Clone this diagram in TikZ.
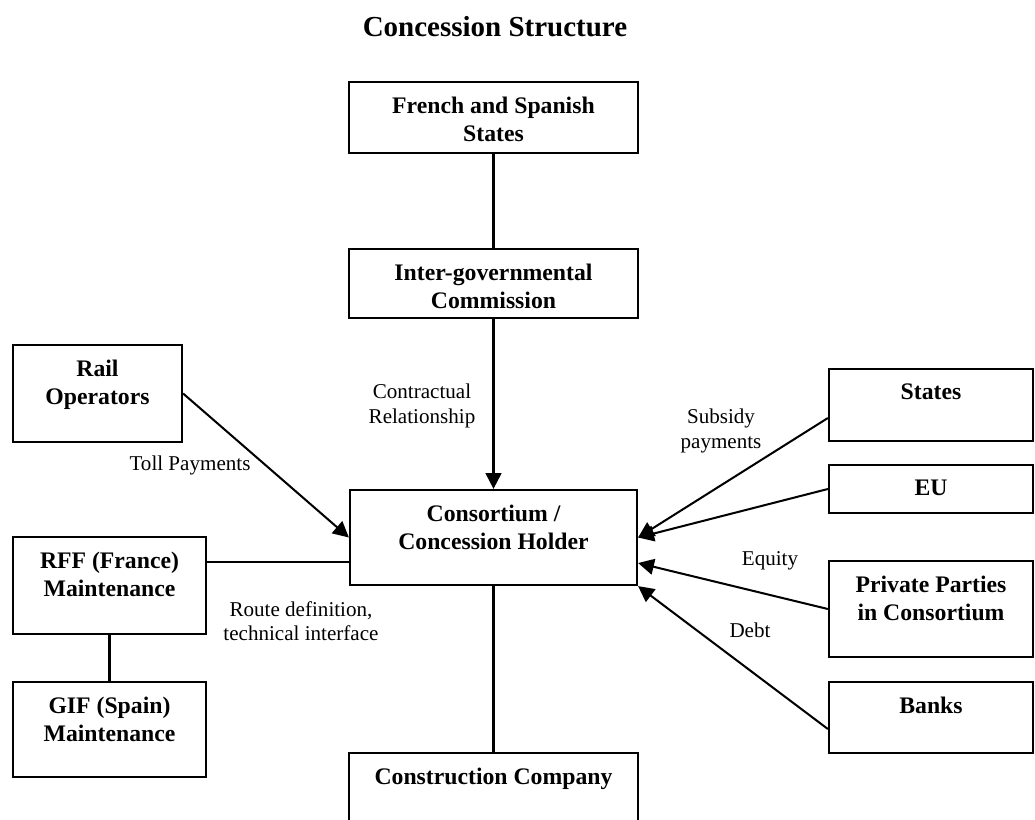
\documentclass[tikz,border=0pt]{standalone}
\usepackage{fontspec}
\setmainfont{Liberation Serif}
\usetikzlibrary{arrows.meta,calc}

\tikzset{
  box/.style={draw, line width=1.3pt, inner sep=0pt},
  boxtext/.style={anchor=north, yshift=-0.31cm, inner sep=0pt, align=center,
    font=\fontsize{13.5}{15.9}\selectfont\bfseries},
  note/.style={inner sep=0pt, align=center, font=\fontsize{12}{13.7}\selectfont},
  link/.style={line width=1.15pt},
  flow/.style={link, -{Triangle[length=9pt,width=9pt]}},
}

\begin{document}
\begin{tikzpicture}[x=0.02cm, y=-0.02cm]
\useasboundingbox (0,0) rectangle (1035,819);
\clip (0,0) rectangle (1035,819);
\fill[white] (0,0) rectangle (1035,819);

% ---------------------------------------------------------------- title
\node[anchor=base, inner sep=0pt, font=\fontsize{16.5}{20}\selectfont\bfseries]
  (title) at (495,36) {Concession Structure};

% -------------------------------------------------------- centre column
\node[box, minimum width=5.78cm, minimum height=1.42cm,
  label={[boxtext]north:{French and Spanish\\States}}] (fss) at (493.5,117.5) {};
\node[box, minimum width=5.78cm, minimum height=1.38cm,
  label={[boxtext]north:{Inter-governmental\\Commission}}] (igc) at (493.5,283.5) {};
\node[box, minimum width=5.74cm, minimum height=1.90cm,
  label={[boxtext]north:{Consortium /\\Concession Holder}}] (cons) at (493.5,537.5) {};
\node[box, minimum width=5.78cm, minimum height=1.90cm,
  label={[boxtext]north:{Construction Company}}] (constr) at (493.5,800.5) {};

% ------------------------------------------------------------ left side
\node[box, minimum width=3.38cm, minimum height=1.94cm,
  label={[boxtext]north:{Rail\\Operators}}] (rail) at (97.5,393.5) {};
\node[box, minimum width=3.86cm, minimum height=1.94cm,
  label={[boxtext]north:{RFF (France)\\Maintenance}}] (rff) at (109.5,585.5) {};
\node[box, minimum width=3.86cm, minimum height=1.90cm,
  label={[boxtext]north:{GIF (Spain)\\Maintenance}}] (gif) at (109.5,729.5) {};

% ----------------------------------------------------------- right side
\node[box, minimum width=4.08cm, minimum height=1.44cm,
  label={[boxtext]north:{States}}] (states) at (931,405) {};
\node[box, minimum width=4.08cm, minimum height=0.96cm,
  label={[boxtext]north:{EU}}] (eu) at (931,489) {};
\node[box, minimum width=4.08cm, minimum height=1.92cm,
  label={[boxtext]north:{Private Parties\\in Consortium}}] (ppc) at (931,609) {};
\node[box, minimum width=4.08cm, minimum height=1.42cm,
  label={[boxtext]north:{Banks}}] (banks) at (931,717.5) {};

% ----------------------------------------------------------- connectors
\draw[link] (fss.south) -- (igc.north);
\draw[flow] (igc.south) -- (cons.north);
\draw[link] (cons.south) -- (constr.north);
\draw[flow] (rail.east) -- (cons.west);
\coordinate (rjoin) at ($(cons.west)+(0,24.5)$);
\draw[link] (rjoin) -- (rjoin -| rff.east);
\draw[link] (rff.south) -- (gif.north);

\draw[flow] ($(states.west)+(0,13)$) -- (cons.east);
\draw[flow] (eu.west) -- (cons.east);
\draw[flow] (ppc.west) -- ($(cons.east)+(0,25.5)$);
\draw[flow] ($(banks.west)+(0,11.5)$) -- (cons.south east);

% --------------------------------------------------------------- labels
\node[note, anchor=north] (contract) at (422,384) {Contractual\\Relationship};
\node[note, anchor=base] (toll) at (190,470) {Toll Payments};
\node[note, anchor=north] (route) at (301,601) {Route definition,\\technical interface};
\node[note, anchor=north] (subsidy) at (721,409) {Subsidy\\payments};
\node[note, anchor=base] (equity) at (770,565) {Equity};
\node[note, anchor=base] (debt) at (750,637) {Debt};

\end{tikzpicture}
\end{document}
